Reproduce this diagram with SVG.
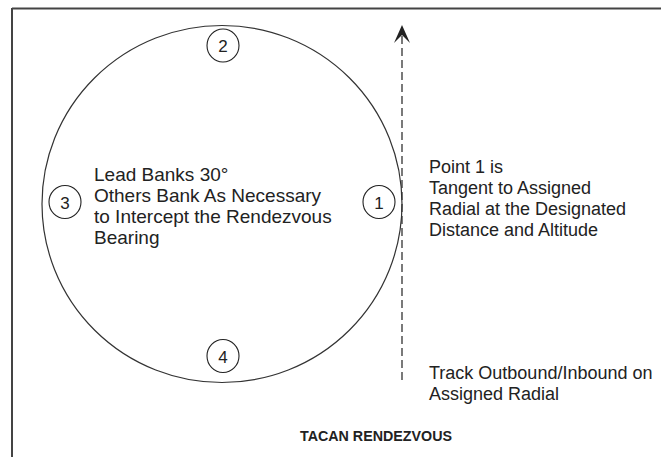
<svg xmlns="http://www.w3.org/2000/svg" width="661" height="457" viewBox="0 0 661 457">
<defs>
<style>
.ln{fill:none;stroke:#333;stroke-width:1.2}
.pt{fill:none;stroke:#222;stroke-width:1.1}
.tx{font-family:"Liberation Sans",Arial,sans-serif;font-size:18px;fill:#222}
.txl{font-family:"Liberation Sans",Arial,sans-serif;font-size:19px;fill:#222}
.num{font-family:"Liberation Sans",Arial,sans-serif;font-size:17px;fill:#222;text-anchor:middle}
.ttl{font-family:"Liberation Sans",Arial,sans-serif;font-size:14.5px;font-weight:bold;fill:#222}
</style>
</defs>
<rect width="661" height="457" fill="#fff"/>
<g id="frame">
<line x1="12" y1="8.5" x2="661" y2="8.5" stroke="#444" stroke-width="2"/>
<line x1="12" y1="8" x2="12" y2="457" stroke="#444" stroke-width="2"/>
</g>
<g id="orbit">
<ellipse class="ln" cx="222" cy="204" rx="180" ry="178.5"/>
</g>
<g id="connectors">
<line x1="402" y1="36" x2="402" y2="380" stroke="#333" stroke-width="1.3" stroke-dasharray="8,4"/>
<path d="M394,43 L402,25 L410,43 L402,35 Z" fill="#222"/>
</g>
<g id="p2"><ellipse class="pt" cx="223" cy="45.5" rx="16" ry="16.5"/><text class="num" x="223" y="52">2</text></g>
<g id="p3"><ellipse class="pt" cx="65" cy="202" rx="16" ry="16.5"/><text class="num" x="65" y="208.5">3</text></g>
<g id="p1"><ellipse class="pt" cx="379" cy="202" rx="16" ry="16.5"/><text class="num" x="379" y="208.5">1</text></g>
<g id="p4"><ellipse class="pt" cx="223" cy="356" rx="16" ry="16.5"/><text class="num" x="223" y="362.5">4</text></g>
<g id="lead-text">
<text class="txl" x="94" y="181">Lead Banks 30°</text>
<text class="txl" x="94" y="202">Others Bank As Necessary</text>
<text class="txl" x="94" y="223">to Intercept the Rendezvous</text>
<text class="txl" x="94" y="244">Bearing</text>
</g>
<g id="point1-text">
<text class="tx" x="429" y="173">Point 1 is</text>
<text class="tx" x="429" y="194">Tangent to Assigned</text>
<text class="tx" x="429" y="215">Radial at the Designated</text>
<text class="tx" x="429" y="236">Distance and Altitude</text>
</g>
<g id="track-text">
<text class="tx" x="429" y="379">Track Outbound/Inbound on</text>
<text class="tx" x="429" y="400">Assigned Radial</text>
</g>
<g id="title">
<text class="ttl" x="300" y="441" textLength="152" lengthAdjust="spacingAndGlyphs">TACAN RENDEZVOUS</text>
</g>
</svg>
